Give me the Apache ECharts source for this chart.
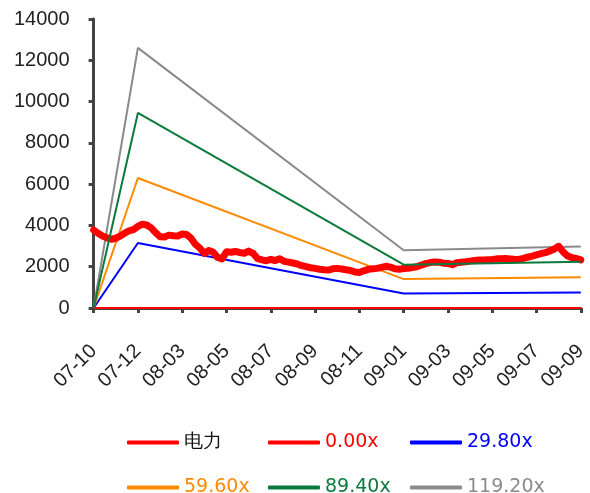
<!DOCTYPE html>
<html>
<head>
<meta charset="utf-8">
<script src="https://cdn.jsdelivr.net/npm/echarts@6/dist/echarts.min.js"></script>
<style>
  html, body { margin: 0; padding: 0; background: #fff; }
  #chart { width: 590px; height: 493px; }
</style>
</head>
<body>
<div id="chart"></div>
<script>
// Month ticks along the x axis (yy-mm)
const tickLabels = ['07-10', '07-12', '08-03', '08-05', '08-07', '08-09', '08-11', '09-01', '09-03', '09-05', '09-07', '09-09'];
// Index samples per tick interval
const stepsPerTick = 10;

// 电力 sector index level, sampled evenly across the period
const powerIndex = [
  3780, 3620, 3490, 3400, 3330, 3380, 3480, 3620, 3740, 3800,
  3950, 4060, 4020, 3880, 3650, 3450, 3440, 3530, 3500, 3490,
  3580, 3560, 3380, 3080, 2900, 2640, 2790, 2700, 2450, 2380,
  2720, 2700, 2740, 2690, 2650, 2760, 2650, 2400, 2330, 2290,
  2350, 2300, 2390, 2260, 2220, 2180, 2130, 2050, 2000, 1950,
  1920, 1880, 1850, 1840, 1900, 1920, 1890, 1850, 1820, 1740,
  1720, 1800, 1870, 1900, 1920, 1970, 2020, 1980, 1900, 1880,
  1910, 1930, 1960, 2000, 2080, 2150, 2200, 2230, 2220, 2170,
  2160, 2100, 2190, 2220, 2240, 2270, 2300, 2320, 2330, 2340,
  2350, 2380, 2390, 2400, 2380, 2360, 2350, 2400, 2460, 2510,
  2570, 2630, 2680, 2760, 2860, 2990, 2720, 2520, 2440, 2400,
  2330
];

// PE band lines: known at a few tick positions only
const bandTicks = [0, 1, 7, 11];
const band000 = [0, 0, 0, 0];
const band2980 = [0, 3150, 700, 745];
const band5960 = [0, 6300, 1400, 1490];
const band8940 = [0, 9450, 2100, 2235];
const band11920 = [0, 12600, 2800, 2980];

const seriesNames = ['电力', '0.00x', '29.80x', '59.60x', '89.40x', '119.20x'];
const seriesColors = ['#ff0000', '#ff0000', '#0000ff', '#ff8a00', '#0b7a3c', '#8a8a8a'];

const powerPoints = powerIndex.map((v, i) => [i / stepsPerTick, v]);
const bandPoints = arr => arr.map((v, i) => [bandTicks[i], v]);

const axisFont = { fontFamily: 'Liberation Sans, Arial, sans-serif', fontSize: 20, color: '#222' };

function bandSeries(name, color, arr, z) {
  return {
    name, type: 'line', data: bandPoints(arr), symbol: 'none', z,
    lineStyle: { color, width: 2 }, itemStyle: { color }, animation: false
  };
}

const legendPos = [
  { left: 122, top: 428 }, { left: 263, top: 428 }, { left: 405, top: 428 },
  { left: 122, top: 473 }, { left: 263, top: 473 }, { left: 405, top: 473 }
];
const legends = seriesNames.map((name, i) => ({
  data: [{ name, textStyle: { color: i === 0 ? '#111' : seriesColors[i] } }],
  left: legendPos[i].left, top: legendPos[i].top,
  icon: 'roundRect', itemWidth: 52, itemHeight: 4,
  textStyle: { fontFamily: 'DejaVu Sans, sans-serif', fontSize: 19 },
  selectedMode: false
}));

const chart = echarts.init(document.getElementById('chart'), null, { renderer: 'canvas' });
chart.setOption({
  animation: false,
  backgroundColor: '#fff',
  grid: { left: 93.6, right: 5, top: 19, bottom: 185, containLabel: false },
  legend: legends,
  xAxis: {
    type: 'value', min: 0, max: tickLabels.length - 1, interval: 1,
    axisLine: { show: true, onZero: false, lineStyle: { color: '#444', width: 3 } },
    axisTick: { show: true, length: 5, lineStyle: { color: '#444', width: 3 } },
    splitLine: { show: false },
    axisLabel: {
      ...axisFont, rotate: 45, margin: 40,
      formatter: v => tickLabels[Math.round(v)] || ''
    }
  },
  yAxis: {
    type: 'value', min: 0, max: 14000, interval: 2000,
    axisLine: { show: true, lineStyle: { color: '#444', width: 3 } },
    axisTick: { show: true, length: 5, lineStyle: { color: '#444', width: 3 } },
    splitLine: { show: false },
    axisLabel: { ...axisFont, margin: 24, formatter: v => String(v) }
  },
  series: [
    {
      name: seriesNames[0], type: 'line', data: powerPoints, symbol: 'none', z: 3,
      lineStyle: { color: seriesColors[0], width: 7, join: 'round', cap: 'round' },
      itemStyle: { color: seriesColors[0] }
    },
    bandSeries(seriesNames[1], seriesColors[1], band000, 4),
    bandSeries(seriesNames[2], seriesColors[2], band2980, 2),
    bandSeries(seriesNames[3], seriesColors[3], band5960, 2),
    bandSeries(seriesNames[4], seriesColors[4], band8940, 4),
    bandSeries(seriesNames[5], seriesColors[5], band11920, 2)
  ]
});
</script>
</body>
</html>
